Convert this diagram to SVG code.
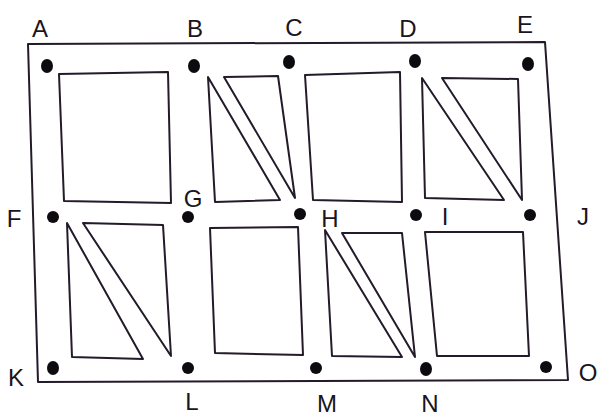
<svg xmlns="http://www.w3.org/2000/svg" width="601" height="419" viewBox="0 0 601 419">
<style>
.ln{fill:none;stroke:#231a2a;stroke-width:2;stroke-linejoin:round;stroke-linecap:round}
.dot{fill:#0d0a10}
.lbl{font-family:"Liberation Sans",Arial,sans-serif;font-size:24px;fill:#1a1420;text-anchor:middle}
</style>
<rect width="601" height="419" fill="#ffffff"/>
<g id="frame">
<polygon class="ln" points="28,44 545,42 568,380 38,382"/>
</g>
<g id="connectors">
<polygon class="ln" points="59,74 168,72 171,203 64,201"/>
<polygon class="ln" points="208,77 215,202 280,200"/>
<polygon class="ln" points="224,77 278,76 295,198"/>
<polygon class="ln" points="305,75 400,72 402,202 313,200"/>
<polygon class="ln" points="422,78 425,198 504,200"/>
<polygon class="ln" points="442,78 518,79 522,200"/>
<polygon class="ln" points="67,223 72,357 143,359"/>
<polygon class="ln" points="83,223 163,225 171,356"/>
<polygon class="ln" points="210,228 298,227 303,355 215,353"/>
<polygon class="ln" points="325,230 332,356 402,357"/>
<polygon class="ln" points="342,233 402,233 415,357"/>
<polygon class="ln" points="425,232 523,232 529,356 437,356"/>
</g>
<g id="A"><ellipse class="dot" cx="47" cy="66" rx="6" ry="7"/><text class="lbl" x="40" y="37">A</text></g>
<g id="B"><ellipse class="dot" cx="194" cy="66" rx="6" ry="7"/><text class="lbl" x="195" y="37">B</text></g>
<g id="C"><ellipse class="dot" cx="289" cy="62" rx="6" ry="7"/><text class="lbl" x="294" y="36">C</text></g>
<g id="D"><ellipse class="dot" cx="415" cy="61" rx="6" ry="7"/><text class="lbl" x="408" y="37">D</text></g>
<g id="E"><ellipse class="dot" cx="528" cy="64" rx="6" ry="7"/><text class="lbl" x="525" y="33">E</text></g>
<g id="F"><ellipse class="dot" cx="53" cy="217" rx="6" ry="6"/><text class="lbl" x="14" y="227">F</text></g>
<g id="G"><ellipse class="dot" cx="188" cy="217" rx="6" ry="6"/><text class="lbl" x="193" y="207">G</text></g>
<g id="H"><ellipse class="dot" cx="300" cy="214" rx="6" ry="6"/><text class="lbl" x="330" y="227">H</text></g>
<g id="I"><ellipse class="dot" cx="416" cy="215" rx="6" ry="6"/><text class="lbl" x="445" y="225">I</text></g>
<g id="J"><ellipse class="dot" cx="530" cy="215" rx="6" ry="6"/><text class="lbl" x="583" y="225">J</text></g>
<g id="K"><ellipse class="dot" cx="53" cy="368" rx="6" ry="7"/><text class="lbl" x="16" y="386">K</text></g>
<g id="L"><ellipse class="dot" cx="188" cy="368" rx="6" ry="6"/><text class="lbl" x="192" y="410">L</text></g>
<g id="M"><ellipse class="dot" cx="316" cy="368" rx="6" ry="6"/><text class="lbl" x="327" y="412">M</text></g>
<g id="N"><ellipse class="dot" cx="426" cy="369" rx="6" ry="7"/><text class="lbl" x="430" y="412">N</text></g>
<g id="O"><ellipse class="dot" cx="546" cy="367" rx="6" ry="6"/><text class="lbl" x="588" y="381">O</text></g>
</svg>
